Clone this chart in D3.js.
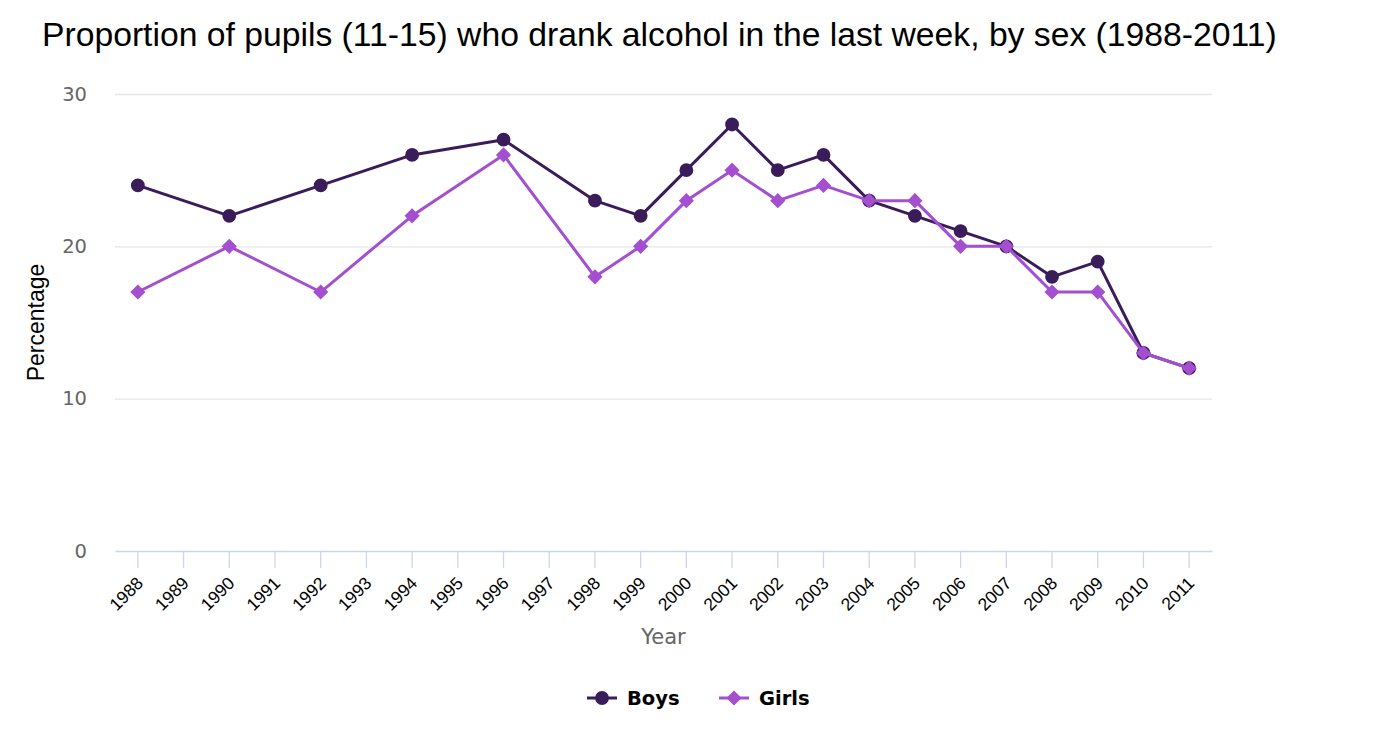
<!DOCTYPE html>
<html lang="en">
<head>
<meta charset="utf-8">
<style>
  body { margin: 0; background: #fff; }
  svg { display: block; }
</style>
</head>
<body>
<script src="https://d3js.org/d3.v7.min.js"></script>
<script>
  var width = 1400, height = 747;

  // chart data (null = no survey that year)
  var years = ['1988', '1989', '1990', '1991', '1992', '1993', '1994', '1995', '1996', '1997', '1998', '1999',
    '2000', '2001', '2002', '2003', '2004', '2005', '2006', '2007', '2008', '2009', '2010', '2011'];
  var boys = [24, null, 22, null, 24, null, 26, null, 27, null, 23, 22, 25, 28, 25, 26, 23, 22, 21, 20, 18, 19, 13, 12];
  var girls = [17, null, 20, null, 17, null, 22, null, 26, null, 18, 20, 23, 25, 23, 24, 23, 23, 20, 20, 17, 17, 13, 12];
  var yTicks = [0, 10, 20, 30];

  // highcharts-like diamond: a square turned 45 degrees
  var diamond = {
    draw: function (ctx, size) {
      var r = Math.sqrt(size / 2);
      ctx.moveTo(0, -r); ctx.lineTo(r, 0); ctx.lineTo(0, r); ctx.lineTo(-r, 0); ctx.closePath();
    }
  };

  var series = [
    { name: 'Boys', values: boys, color: '#3b1c5a', symbol: d3.symbolCircle, size: 150 },
    { name: 'Girls', values: girls, color: '#a44ed0', symbol: diamond, size: 115 }
  ];

  var margin = { left: 115, right: 188, top: 94, bottom: 196 };
  var plotW = width - margin.left - margin.right;
  var plotH = height - margin.top - margin.bottom;

  var svg = d3.select('body').append('svg').attr('width', width).attr('height', height);

  var x = d3.scaleBand().domain(years).range([0, plotW]);
  var y = d3.scaleLinear().domain([0, 30]).range([plotH, 0]);

  svg.append('text')
    .attr('x', 42).attr('y', 46)
    .style('font-family', 'Liberation Sans, Arial, sans-serif')
    .style('font-size', '33.7px')
    .attr('fill', '#000')
    .text('Proportion of pupils (11-15) who drank alcohol in the last week, by sex (1988-2011)');

  var g = svg.append('g').attr('transform', 'translate(' + margin.left + ',' + margin.top + ')');

  // grid + y labels
  var yAxis = g.append('g').call(d3.axisLeft(y).tickValues(yTicks).tickSize(-plotW).tickPadding(28));
  yAxis.select('.domain').remove();
  yAxis.selectAll('.tick line').attr('stroke', '#e6e6e6').attr('stroke-width', 1.3);
  yAxis.selectAll('.tick').filter(function (d) { return d === 0; }).select('line').remove();
  yAxis.selectAll('.tick text')
    .attr('fill', '#666')
    .style('font-family', 'DejaVu Sans, sans-serif')
    .style('font-size', '19.5px');

  // x axis
  var xAxis = g.append('g').attr('transform', 'translate(0,' + plotH + ')')
    .call(d3.axisBottom(x).tickSizeInner(17).tickSizeOuter(0));
  xAxis.select('.domain').attr('stroke', '#ccd6eb').attr('stroke-width', 1.3);
  xAxis.selectAll('.tick line').attr('stroke', '#ccd6eb').attr('stroke-width', 1.3);
  xAxis.selectAll('.tick text')
    .attr('fill', '#000')
    .style('font-family', 'Liberation Sans, Arial, sans-serif')
    .style('font-size', '17.5px')
    .attr('text-anchor', 'end')
    .attr('x', 0).attr('y', 0)
    .attr('dy', '0.35em')
    .attr('transform', 'translate(2,29) rotate(-45)');

  svg.append('text')
    .attr('x', margin.left + plotW / 2).attr('y', 644)
    .attr('text-anchor', 'middle')
    .attr('fill', '#666')
    .style('font-family', 'DejaVu Sans, sans-serif')
    .style('font-size', '21px')
    .text('Year');

  svg.append('text')
    .attr('transform', 'translate(44,' + (margin.top + plotH / 2) + ') rotate(-90)')
    .attr('text-anchor', 'middle')
    .attr('fill', '#000')
    .style('font-family', 'Liberation Sans, Arial, sans-serif')
    .style('font-size', '23px')
    .text('Percentage');

  var cx = function (i) { return x(years[i]) + x.bandwidth() / 2; };

  series.forEach(function (s) {
    var pts = s.values.map(function (v, i) { return { i: i, v: v }; })
      .filter(function (d) { return d.v !== null; });

    g.append('path')
      .datum(pts)
      .attr('fill', 'none')
      .attr('stroke', s.color)
      .attr('stroke-width', 3)
      .attr('stroke-linejoin', 'round')
      .attr('d', d3.line().x(function (d) { return cx(d.i); }).y(function (d) { return y(d.v); }));

    g.selectAll(null)
      .data(pts)
      .join('path')
      .attr('transform', function (d) { return 'translate(' + cx(d.i) + ',' + y(d.v) + ')'; })
      .attr('d', d3.symbol().type(s.symbol).size(s.size))
      .attr('fill', s.color);
  });

  // legend
  var legend = svg.append('g').attr('transform', 'translate(587,698)');
  var lx = [0, 132];
  series.forEach(function (s, k) {
    var item = legend.append('g').attr('transform', 'translate(' + lx[k] + ',0)');
    item.append('line').attr('x1', 0).attr('x2', 30).attr('y1', 0).attr('y2', 0)
      .attr('stroke', s.color).attr('stroke-width', 3);
    item.append('path').attr('transform', 'translate(15,0)')
      .attr('d', d3.symbol().type(s.symbol).size(s.size)).attr('fill', s.color);
    item.append('text').attr('x', 40).attr('y', 7)
      .attr('fill', '#000')
      .style('font-family', 'DejaVu Sans, sans-serif')
      .style('font-weight', 'bold')
      .style('font-size', '19.5px')
      .text(s.name);
  });
</script>
</body>
</html>
